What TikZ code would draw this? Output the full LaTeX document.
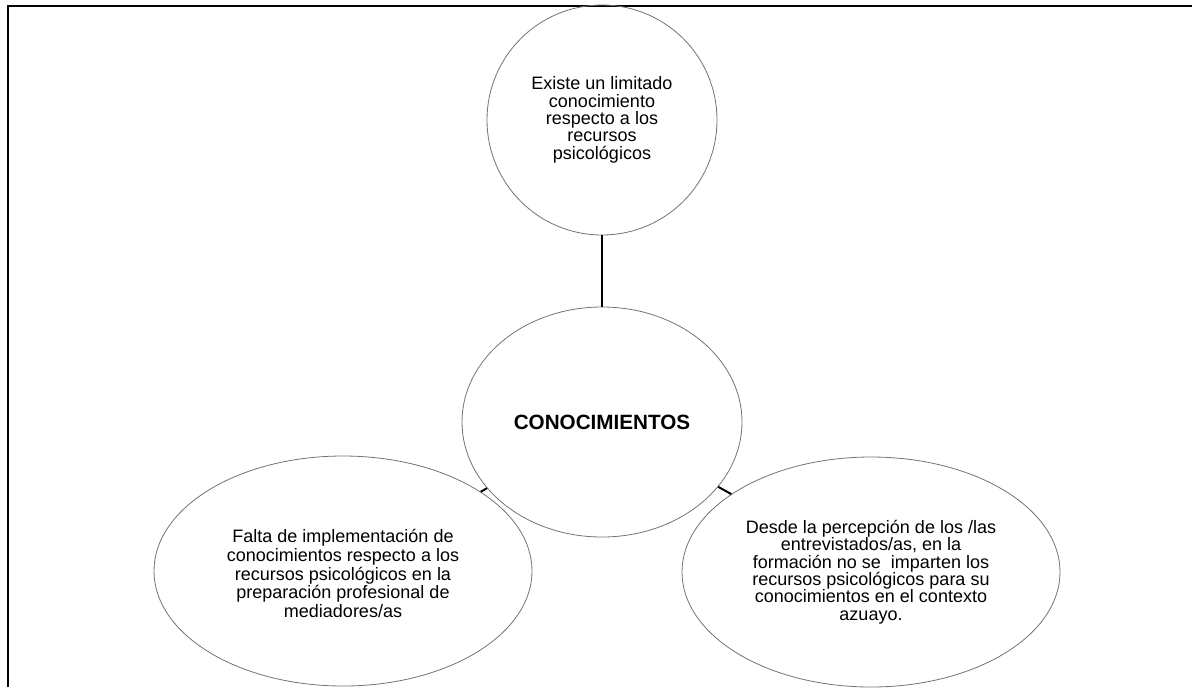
\documentclass[tikz,border=0pt]{standalone}
\usepackage{fontspec}
\setmainfont{Liberation Sans}
\usepackage{tikz}
\usetikzlibrary{shapes.geometric}

\begin{document}
\begin{tikzpicture}[x=0.75pt, y=-0.75pt,
    outline/.style={draw=black!55, line width=0.6pt, inner sep=0pt},
    bubble/.style={outline, ellipse, minimum height=172.5pt},
    txt/.style={align=center, font=\fontsize{13.5}{13}\selectfont},
    link/.style={line width=1.5pt}]
  \useasboundingbox (0,0) rectangle (1192,687);
  \coordinate (fl) at (8,687);
  \coordinate (fc) at (8,6);
  \coordinate (fr) at (1192,6);
  \draw[link] (fl) -- (fc) -- (fr);
  \node[outline, circle, minimum size=172.5pt,
    label={[txt]center:{Existe un limitado\\conocimiento\\respecto a los\\recursos\\psicológicos}}] (limitado) at (602,120) {};
  \node[bubble, minimum width=210pt, font=\fontsize{15.5}{18}\selectfont\bfseries] (core) at (602,422) {CONOCIMIENTOS};
  \node[bubble, minimum width=283.5pt,
    label={[txt, font=\fontsize{13.5}{14}\selectfont, yshift=-2pt]center:{Falta de implementación de\\conocimientos respecto a los\\recursos psicológicos en la\\preparación profesional de\\mediadores/as}}] (falta) at (343,571) {};
  \node[bubble, minimum width=283.5pt,
    label={[txt]center:{Desde la percepción de los /las\\entrevistados/as, en la\\formación no se~ imparten los\\recursos psicológicos para su\\conocimientos en el contexto\\azuayo.}}] (desde) at (871,572) {};
  \draw[link] (limitado) -- (core);
  \draw[link] (core) -- (falta);
  \draw[link] (core) -- (desde);
\end{tikzpicture}
\end{document}
